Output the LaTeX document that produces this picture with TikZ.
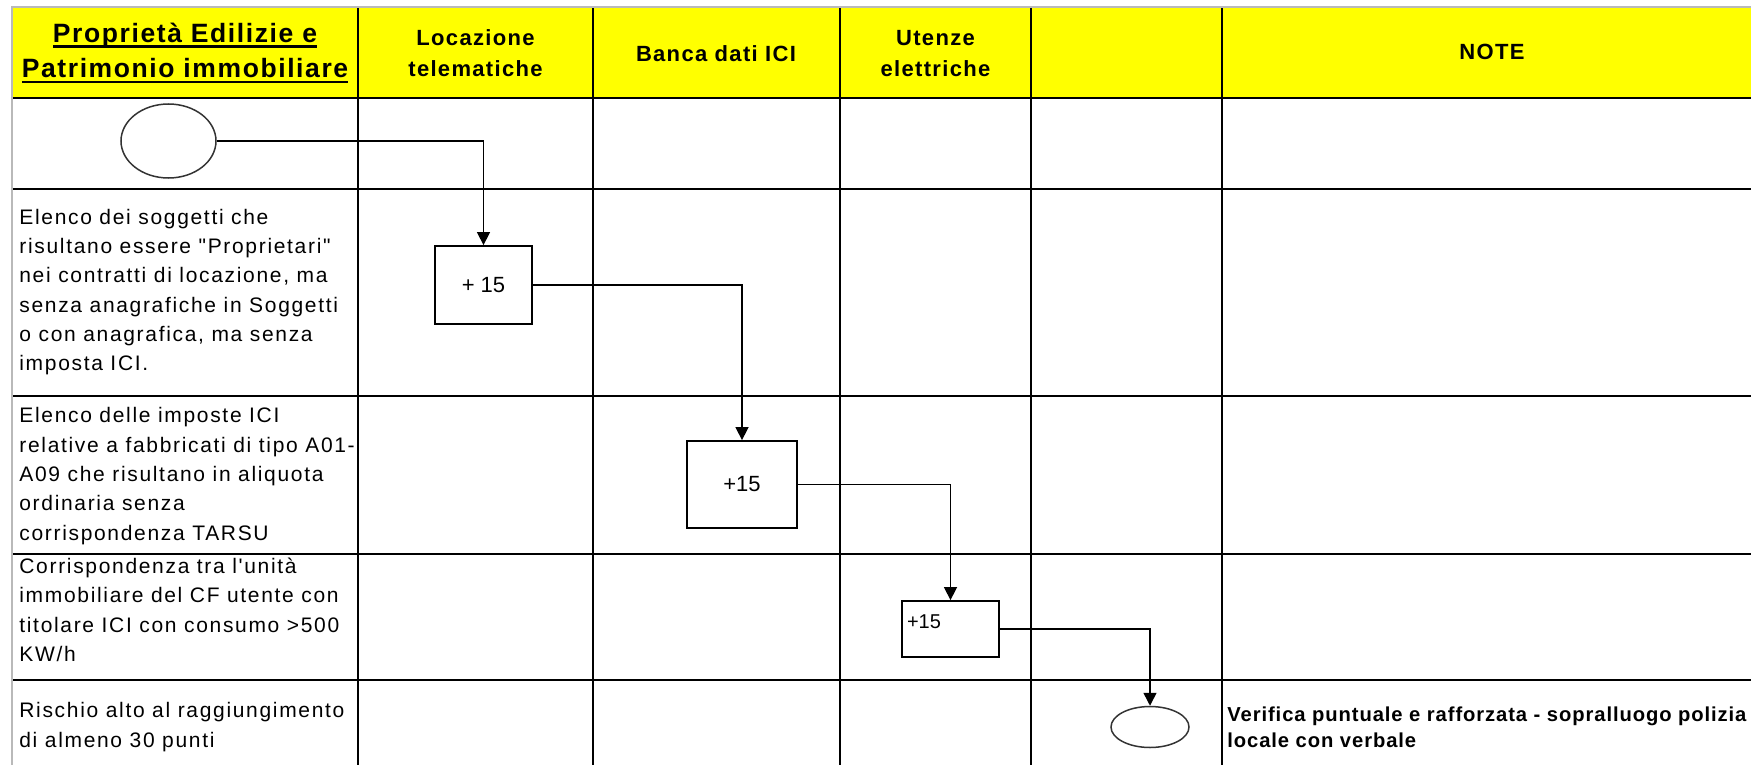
\documentclass[tikz,border=0pt]{standalone}
\usepackage{fontspec}
\setmainfont{Liberation Sans}
\newfontfamily\bodyfont[LetterSpace=8,Ligatures=TeXOff]{Liberation Sans}
\newfontfamily\headfont[LetterSpace=6]{Liberation Sans}
\newfontfamily\notefont[LetterSpace=4.5]{Liberation Sans}
\newfontfamily\numfont{Liberation Sans}
\usetikzlibrary{arrows.meta,shapes.geometric}
\definecolor{hdr}{HTML}{FFFF00}
\newcommand\myul[1]{\setbox0=\hbox{#1}\rlap{\rule[-2.85pt]{\wd0}{1.2pt}}\box0}
\tikzset{
  gridline/.style={line width=0.9pt, draw=black},
  outerline/.style={line width=1pt, draw=gray!55},
  flowbox/.style={draw, line width=0.9pt, rectangle, inner sep=0pt, font=\numfont\fontsize{11}{13}\selectfont},
  terminal/.style={draw=black!80, line width=0.75pt, ellipse, inner sep=0pt},
  flow/.style={line width=0.75pt, -{Triangle[width=6.5pt,length=6.5pt]}},
  headtxt/.style={font=\headfont\bfseries\fontsize{11}{15.5}\selectfont, align=center, inner sep=0pt},
  titletxt/.style={font=\headfont\bfseries\fontsize{13.25}{17.85}\selectfont, align=center, inner sep=0pt},
  bodytxt/.style={font=\bodyfont\fontsize{10.5}{14.65}\selectfont, align=left, anchor=west, inner sep=0pt},
  notetxt/.style={font=\notefont\bfseries\fontsize{10.1}{13.15}\selectfont, align=left, anchor=west, inner sep=0pt},
}
\begin{document}
\begin{tikzpicture}[x=0.5pt,y=-0.5pt]
\useasboundingbox (0,0) rectangle (1751,765);
\fill[hdr] (12,7) rectangle (1751,98);
\foreach \yy in {98,189,396,554,680} \draw[gridline] (12,\yy) -- (1751,\yy);
\foreach \xx in {358,593,840,1031,1222} \draw[gridline] (\xx,7) -- (\xx,765);
\draw[outerline] (12,765) -- (12,7) -- (1751,7);

% header texts
\node[titletxt] (title) at (185,53) {\myul{Proprietà Edilizie e}\\\myul{Patrimonio immobiliare}};
\node[headtxt] (h1) at (475.5,53) {Locazione\\telematiche};
\node[headtxt] (h2) at (716,53.3) {Banca dati ICI};
\node[headtxt] (h3) at (935.5,54) {Utenze\\elettriche};
\node[headtxt] (h4) at (1492,51.7) {NOTE};

% row texts
\node[bodytxt] (r2) at (19,292) {Elenco dei soggetti che\\risultano essere "Proprietari"\\nei contratti di locazione, ma\\senza anagrafiche in Soggetti\\o con anagrafica, ma senza\\imposta ICI.};
\node[bodytxt] (r3) at (19,476) {Elenco delle imposte ICI\\relative a fabbricati di tipo A01-\\A09 che risultano in aliquota\\ordinaria senza\\corrispondenza TARSU};
\node[bodytxt] (r4) at (19,610) {Corrispondenza tra l'unità\\immobiliare del CF utente con\\titolare ICI con consumo >500\\KW/h};
\node[bodytxt] (r5) at (19,727) {Rischio alto al raggiungimento\\di almeno 30 punti};
\node[notetxt] (note) at (1227,727) {Verifica puntuale e rafforzata - sopralluogo polizia\\locale con verbale};

% flow shapes
\node[terminal, minimum width=47.5pt, minimum height=37pt] (start) at (168.5,141) {};
\node[flowbox, minimum width=48.5pt, minimum height=39pt] (s1) at (483.5,285) {+ 15};
\node[flowbox, minimum width=55pt, minimum height=43.5pt] (s2) at (742,484.5) {+15};
\node[flowbox, minimum width=48.5pt, minimum height=28pt] (s3) at (950.5,629) {};
\node[anchor=west, inner sep=0pt, font=\numfont\fontsize{10}{12}\selectfont] (s3t) at ([xshift=2.75pt,yshift=3.5pt]s3.west) {+15};
\node[terminal, minimum width=39pt, minimum height=20.5pt] (end) at (1150,727) {};

% connectors
\draw[flow] (start.east) -| (s1.north);
\draw[flow] (s1.east) -| (s2.north);
\draw[flow] (s2.east) -| (s3.north);
\draw[flow] (s3.east) -| (end.north);
\end{tikzpicture}
\end{document}
